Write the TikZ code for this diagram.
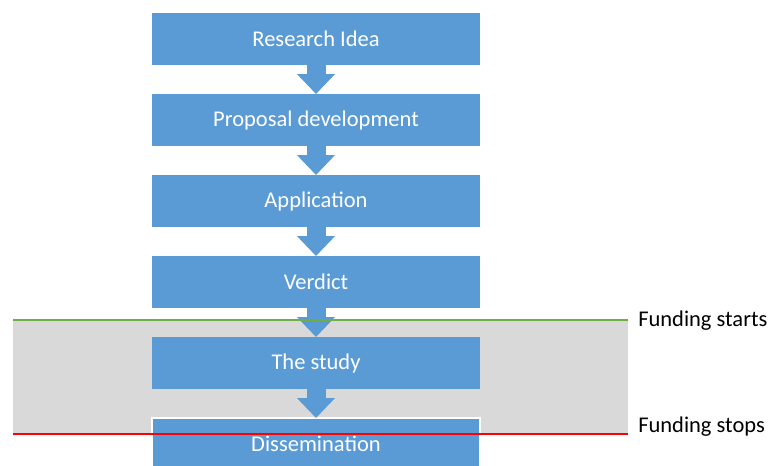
\documentclass[tikz,border=0pt]{standalone}
\usepackage{fontspec}
\setmainfont{Carlito}
\usetikzlibrary{positioning,arrows.meta}
\definecolor{boxblue}{HTML}{5B9BD5}
\definecolor{fundgray}{HTML}{D9D9D9}
\definecolor{fundgreen}{HTML}{70AD47}
\tikzstyle{block} = [rectangle, fill=boxblue, outer sep=0pt,
    minimum width=8.2cm, minimum height=1.3cm, text=white,
    font=\fontsize{16}{19}\selectfont]
\tikzstyle{line} = [draw=boxblue, line width=0.475cm,
    -{Triangle[width=0.925cm,length=0.5cm]}]
\tikzstyle{fundlabel} = [anchor=west, inner sep=0pt, font=\fontsize{16}{19}\selectfont]

\begin{document}
\begin{tikzpicture}[node distance = 0.725cm]
    \useasboundingbox (0,0) rectangle (19.275,-11.625);
    \clip (0,0) rectangle (19.275,-11.625);
    % Funded period
    \fill [fundgray] (0.325,-8.0) rectangle (15.7,-10.85);
    % Place nodes
    \node [block] (idea) at (7.9,-0.975) {Research Idea};
    \node [block, below=of idea] (proposal) {Proposal development};
    \node [block, below=of proposal] (application) {Application};
    \node [block, below=of application] (verdict) {Verdict};
    \node [block, below=of verdict] (study) {The study};
    \node [block, below=of study, draw=white, line width=1.2pt] (dissemination) {Dissemination};

    \path [line] (idea) -- (proposal);
    \path [line] (proposal) -- (application);
    \path [line] (application) -- (verdict);
    \path [line] (verdict) -- (study);
    \path [line] (study) -- (dissemination);

    % Funding limits
    \draw [fundgreen, line width=0.9pt] (0.325,-8.0) -- (15.7,-8.0);
    \draw [red, line width=0.9pt] (0.325,-10.85) -- (15.7,-10.85);
    \node [fundlabel] (starts) at (15.95,-8.02) {Funding starts};
    \node [fundlabel] (stops) at (15.95,-10.67) {Funding stops};
\end{tikzpicture}
\end{document}
